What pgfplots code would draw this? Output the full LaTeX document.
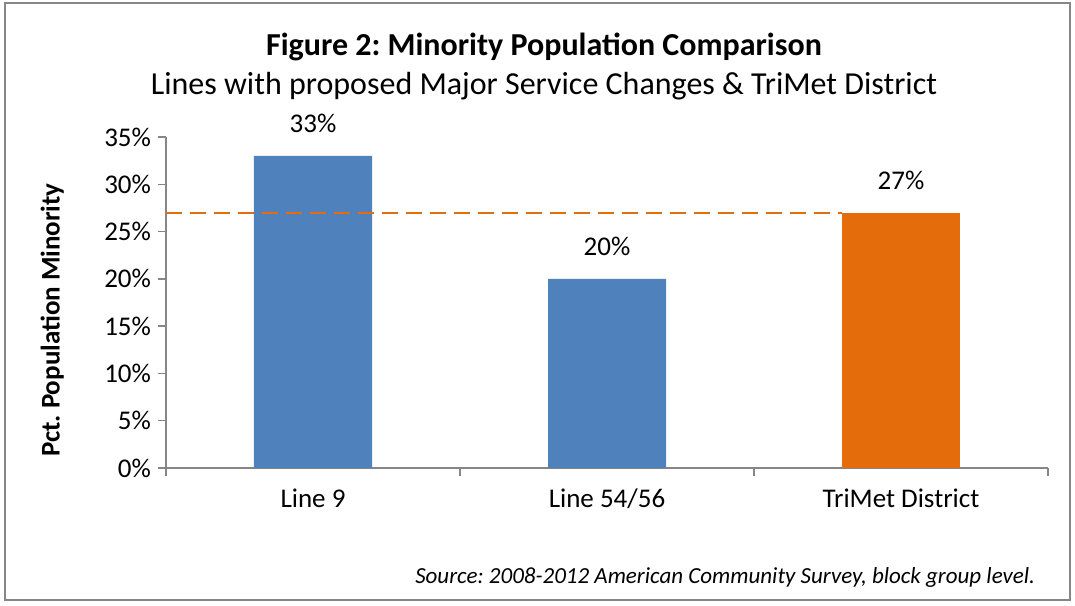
\documentclass[border=0pt]{standalone}
\usepackage{pgfplots}
\pgfplotsset{compat=1.18}
\usepackage{fontspec}
\setmainfont{Carlito}
\frenchspacing
\definecolor{barblue}{HTML}{4F81BD}
\definecolor{barorange}{HTML}{E46C0A}
\definecolor{axisgray}{HTML}{868686}
\begin{document}
\begin{tikzpicture}
  % page: 1075x605 px at 0.5pt per px, origin at the axis corner
  \path (-83pt,-68.5pt) rectangle (454.5pt,234pt);
  \draw[axisgray, line width=1pt] (-80.5pt,-66pt) rectangle (452pt,232.5pt);
  \begin{axis}[
      scale only axis,
      width=441pt, height=165.5pt,
      xmin=-0.5, xmax=2.5,
      ymin=0, ymax=35,
      axis x line=bottom, axis y line=left,
      axis line style={-, draw=axisgray, line width=0.75pt},
      xtick={-0.5,0.5,1.5,2.5},
      x tick label as interval,
      xticklabels={Line 9, Line 54/56, TriMet District},
      ytick={0,5,...,35},
      yticklabel={\pgfmathprintnumber{\tick}\%},
      /pgf/number format/assume math mode=true,
      tick align=outside,
      major tick length=4pt,
      tick style={axisgray, line width=0.75pt},
      ticklabel style={font=\fontsize{13.5}{16}\selectfont},
      xticklabel style={yshift=-3pt},
      ylabel={Pct. Population Minority},
      ylabel style={font=\fontsize{13.5}{16}\selectfont\bfseries,
        at={(axis description cs:-0.129,0.447)}, anchor=center},
      nodes near coords={\pgfmathprintnumber{\pgfplotspointmeta}\%},
      nodes near coords style={font=\fontsize{13.5}{16}\selectfont, yshift=8pt},
      clip=false,
    ]
    \addplot[ybar, bar width=59pt, bar shift=0pt, fill=barblue, draw=none]
      coordinates {(0,33) (1,20)};
    \addplot[ybar, bar width=59pt, bar shift=0pt, fill=barorange, draw=none]
      coordinates {(2,27)};
    \addplot[barorange, line width=1pt, dash pattern=on 8pt off 4pt,
      nodes near coords={}] coordinates {(-0.5,27) (1.8,27)};
  \end{axis}
  \node[font=\fontsize{16}{19}\selectfont\bfseries] at (189pt,210.5pt)
    {Figure 2: Minority Population Comparison};
  \node[font=\fontsize{16}{19}\selectfont] at (189pt,191pt)
    {Lines with proposed Major Service Changes \& TriMet District};
  \node[font=\fontsize{11.5}{14}\selectfont\itshape, anchor=east] at (438pt,-54.5pt)
    {Source: 2008-2012 American Community Survey, block group level.};
\end{tikzpicture}
\end{document}
